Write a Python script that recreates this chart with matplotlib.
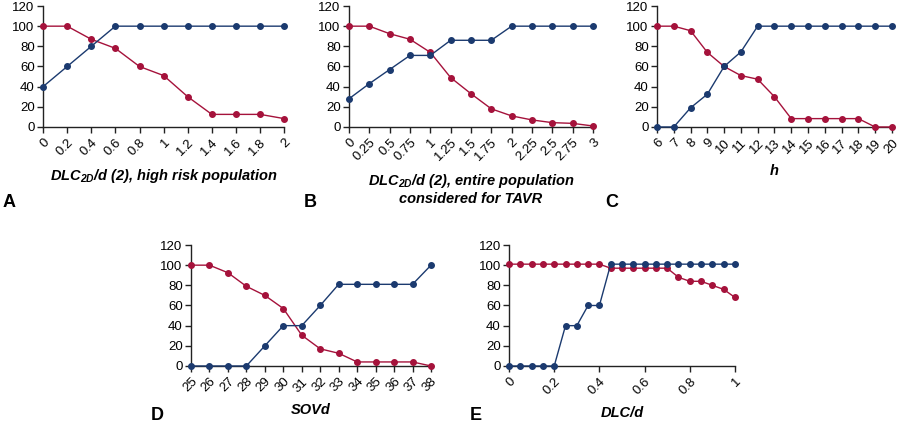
import matplotlib
matplotlib.use('Agg')
import matplotlib.pyplot as plt

plt.rcParams['font.family'] = ['Liberation Sans', 'DejaVu Sans']
plt.rcParams['mathtext.fontset'] = 'custom'
plt.rcParams['mathtext.bfit'] = 'Liberation Sans:bold:italic'

BLUE = '#1b3a6f'
RED = '#a5123b'

# Panel A
a_x = [0, 0.2, 0.4, 0.6, 0.8, 1, 1.2, 1.4, 1.6, 1.8, 2]
a_labels = ['0', '0.2', '0.4', '0.6', '0.8', '1', '1.2', '1.4', '1.6', '1.8', '2']
a_blue = [40, 60, 80, 100, 100, 100, 100, 100, 100, 100, 100]
a_red = [100, 100, 87, 78, 60, 51, 30, 12.5, 12.5, 12.5, 8.3]

# Panel B
b_x = [0, 0.25, 0.5, 0.75, 1, 1.25, 1.5, 1.75, 2, 2.25, 2.5, 2.75, 3]
b_labels = ['0', '0.25', '0.5', '0.75', '1', '1.25', '1.5', '1.75', '2', '2.25', '2.5', '2.75', '3']
b_blue = [28, 43, 57, 71, 71, 86, 86, 86, 100, 100, 100, 100, 100]
b_red = [100, 100, 92.5, 87, 74, 49, 33, 18, 11, 7, 4.3, 3.6, 1]

# Panel C
c_x = list(range(6, 21))
c_labels = [str(v) for v in c_x]
c_blue = [0, 0, 19, 32.5, 60, 74.5, 100, 100, 100, 100, 100, 100, 100, 100, 100]
c_red = [100, 100, 95.5, 74, 60, 51, 47.4, 30, 8.3, 8.3, 8.3, 8.3, 8.3, 0, 0]

# Panel D
d_x = list(range(25, 39))
d_labels = [str(v) for v in d_x]
d_blue = [0, 0, 0, 0, 20, 40, 40, 60, 81, 81, 81, 81, 81, 100]
d_red = [100, 100, 92.5, 79, 70, 57, 30.5, 17, 12.6, 4, 4, 4, 4, 0]

# Panel E
e_x = [i / 20 for i in range(21)]
e_ticks = [0, 0.2, 0.4, 0.6, 0.8, 1]
e_labels = ['0', '0.2', '0.4', '0.6', '0.8', '1']
e_blue = [0, 0, 0, 0, 0, 40, 40, 60, 60, 101, 101, 101, 101, 101, 101, 101, 101, 101, 101, 101, 101]
e_red = [101, 101, 101, 101, 101, 101, 101, 101, 101, 97, 97, 97, 97, 97, 97, 88, 84, 84, 80, 76, 68]

fig = plt.figure(figsize=(9, 4.23), dpi=100)


def panel(rect, x, blue, red, ticks, labels, xlabel):
    ax = fig.add_axes(rect)
    ax.plot(x, red, '-o', color=RED, lw=1.0, ms=4, zorder=3, clip_on=False)
    ax.plot(x, blue, '-o', color=BLUE, lw=1.0, ms=4, zorder=3, clip_on=False)
    ax.set_xlim(x[0], x[-1])
    ax.set_ylim(0, 120)
    ax.set_yticks(range(0, 121, 20))
    ax.set_xticks(ticks)
    ax.set_xticklabels(labels, rotation=45, ha='right', rotation_mode='anchor')
    ax.spines['top'].set_visible(False)
    ax.spines['right'].set_visible(False)
    for s in ('left', 'bottom'):
        ax.spines[s].set_linewidth(1.0)
        ax.spines[s].set_color('#222222')
    ax.tick_params(labelsize=9.5, length=4, width=1.0, color='#222222', pad=2)
    ax.tick_params(axis='x', pad=3)
    ax.set_xlabel(xlabel, fontsize=10.5, fontweight='bold', style='italic', labelpad=6)
    return ax


H = 0.286
panel([0.0478, 0.6998, 0.268, H], a_x, a_blue, a_red, a_x, a_labels,
      r'DLC$_{\mathbfit{2D}}$/d (2), high risk population')
panel([0.3878, 0.6998, 0.271, H], b_x, b_blue, b_red, b_x, b_labels,
      'DLC$_{\\mathbfit{2D}}$/d (2), entire population\nconsidered for TAVR')
panel([0.730, 0.6998, 0.261, H], c_x, c_blue, c_red, c_x, c_labels, 'h')
panel([0.2122, 0.1348, 0.2667, H], d_x, d_blue, d_red, d_x, d_labels, 'SOVd')
panel([0.5656, 0.1348, 0.251, H], e_x, e_blue, e_red, e_ticks, e_labels, 'DLC/d')

for letter, x, y in [('A', 0.003, 0.511), ('B', 0.338, 0.511), ('C', 0.672, 0.511),
                     ('D', 0.168, 0.006), ('E', 0.522, 0.006)]:
    fig.text(x, y, letter, fontsize=13, fontweight='bold', va='baseline')

fig.savefig('out.png', dpi=100)
